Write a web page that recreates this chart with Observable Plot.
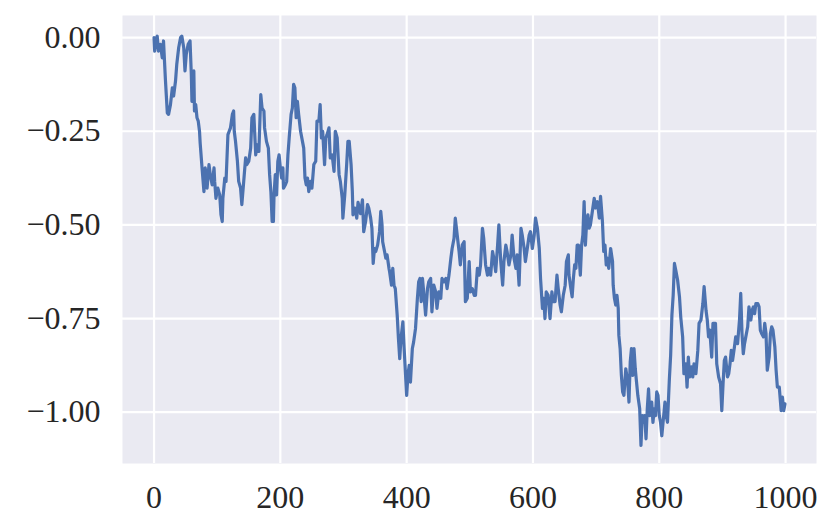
<!DOCTYPE html>
<html><head><meta charset="utf-8">
<script src="https://cdn.jsdelivr.net/npm/d3@7"></script>
<script src="https://cdn.jsdelivr.net/npm/@observablehq/plot@0.6"></script>
<style>body{margin:0;background:#fff}</style>
</head><body><div id="chart"></div>
<script>
const steps = [0,1,3,5,7,10,13,15,18,21,23,26,29,31,34,36,39,42,44,47,49,51,54,57,59,60,63,64,66,68,70,72,73,76,79,81,84,87,89,92,95,96,98,101,104,106,108,109,112,114,117,119,121,124,126,127,129,132,134,137,139,142,145,147,150,153,155,158,161,163,166,169,171,174,175,178,181,183,185,187,189,190,192,194,196,198,200,202,204,205,208,210,212,214,217,219,221,223,225,227,229,232,235,237,239,241,243,245,248,250,253,256,258,261,263,265,267,270,272,274,277,279,282,285,287,290,293,295,298,299,302,305,307,309,312,314,315,318,321,323,325,327,330,332,335,338,340,343,345,347,349,351,354,357,359,361,362,365,367,369,372,373,376,378,380,382,385,387,389,391,394,396,398,400,402,404,406,409,411,414,417,419,421,423,425,427,430,433,435,438,440,443,446,448,451,454,456,459,462,464,467,470,472,475,477,480,483,485,488,491,493,496,499,501,504,507,509,512,515,517,520,522,525,528,530,533,536,538,541,544,546,549,552,554,557,559,562,565,567,570,573,575,578,581,583,586,588,591,594,596,599,602,604,607,610,612,615,617,619,621,624,627,630,632,635,638,640,643,645,648,651,653,656,657,660,662,664,666,668,670,672,675,677,679,681,683,685,687,689,691,694,697,699,702,705,707,710,712,714,716,718,720,723,726,727,729,731,733,735,736,738,740,742,744,747,750,752,754,756,758,760,762,764,766,769,771,773,775,777,779,781,783,785,788,790,792,794,796,798,800,802,804,807,809,811,813,816,818,820,822,824,826,829,832,834,837,839,842,844,846,848,851,853,855,858,861,863,866,869,871,874,876,878,880,883,885,889,891,894,897,899,901,903,905,908,910,912,914,916,919,921,924,927,929,931,933,935,937,940,942,945,947,949,951,953,956,958,960,962,965,967,969,971,974,976,978,980,983,985,987,990,993,995,997,999];
const values = [0.000,-0.036,-0.004,0.004,-0.036,-0.018,-0.054,-0.009,-0.112,-0.201,-0.205,-0.179,-0.134,-0.156,-0.116,-0.071,-0.027,0.000,0.004,-0.027,-0.089,-0.045,-0.018,-0.009,-0.098,-0.170,-0.089,-0.196,-0.179,-0.214,-0.223,-0.250,-0.281,-0.348,-0.411,-0.348,-0.402,-0.339,-0.366,-0.393,-0.348,-0.384,-0.429,-0.402,-0.420,-0.473,-0.491,-0.429,-0.375,-0.384,-0.259,-0.250,-0.241,-0.205,-0.196,-0.250,-0.277,-0.330,-0.384,-0.402,-0.446,-0.384,-0.321,-0.339,-0.330,-0.295,-0.214,-0.205,-0.313,-0.286,-0.304,-0.152,-0.188,-0.196,-0.241,-0.277,-0.295,-0.366,-0.411,-0.491,-0.491,-0.420,-0.366,-0.420,-0.330,-0.313,-0.348,-0.375,-0.348,-0.402,-0.393,-0.384,-0.313,-0.268,-0.205,-0.188,-0.125,-0.134,-0.214,-0.170,-0.205,-0.250,-0.277,-0.295,-0.375,-0.393,-0.375,-0.411,-0.384,-0.402,-0.339,-0.330,-0.223,-0.223,-0.179,-0.268,-0.250,-0.339,-0.268,-0.259,-0.241,-0.321,-0.313,-0.357,-0.250,-0.268,-0.366,-0.384,-0.429,-0.482,-0.420,-0.339,-0.277,-0.277,-0.339,-0.411,-0.473,-0.455,-0.482,-0.440,-0.455,-0.470,-0.433,-0.518,-0.491,-0.446,-0.455,-0.482,-0.509,-0.603,-0.563,-0.571,-0.554,-0.518,-0.464,-0.500,-0.545,-0.571,-0.589,-0.580,-0.616,-0.625,-0.661,-0.616,-0.661,-0.670,-0.741,-0.804,-0.857,-0.804,-0.759,-0.830,-0.893,-0.955,-0.902,-0.875,-0.920,-0.830,-0.813,-0.777,-0.696,-0.652,-0.643,-0.705,-0.643,-0.679,-0.741,-0.670,-0.652,-0.643,-0.732,-0.661,-0.679,-0.723,-0.679,-0.696,-0.643,-0.652,-0.643,-0.670,-0.634,-0.589,-0.563,-0.536,-0.482,-0.527,-0.571,-0.607,-0.554,-0.545,-0.705,-0.696,-0.598,-0.679,-0.670,-0.688,-0.688,-0.616,-0.634,-0.607,-0.509,-0.536,-0.607,-0.634,-0.616,-0.634,-0.571,-0.589,-0.625,-0.554,-0.500,-0.598,-0.661,-0.598,-0.554,-0.571,-0.607,-0.580,-0.527,-0.589,-0.616,-0.580,-0.661,-0.509,-0.527,-0.563,-0.598,-0.563,-0.527,-0.518,-0.563,-0.527,-0.482,-0.509,-0.563,-0.643,-0.723,-0.696,-0.750,-0.679,-0.688,-0.750,-0.679,-0.705,-0.705,-0.634,-0.670,-0.714,-0.732,-0.688,-0.661,-0.598,-0.580,-0.634,-0.670,-0.692,-0.643,-0.607,-0.616,-0.554,-0.554,-0.634,-0.554,-0.527,-0.438,-0.554,-0.491,-0.473,-0.509,-0.500,-0.464,-0.429,-0.455,-0.438,-0.482,-0.424,-0.491,-0.571,-0.554,-0.607,-0.589,-0.616,-0.563,-0.598,-0.661,-0.696,-0.714,-0.688,-0.723,-0.795,-0.830,-0.902,-0.946,-0.955,-0.884,-0.920,-0.973,-0.866,-0.830,-0.902,-0.830,-0.884,-0.920,-0.955,-0.991,-1.089,-1.009,-1.027,-1.009,-1.071,-0.991,-0.938,-1.009,-0.973,-1.027,-0.991,-1.009,-0.946,-0.955,-1.009,-1.027,-1.063,-1.009,-0.973,-1.009,-1.027,-0.911,-0.848,-0.741,-0.688,-0.603,-0.620,-0.647,-0.692,-0.746,-0.799,-0.897,-0.871,-0.933,-0.853,-0.906,-0.879,-0.906,-0.871,-0.897,-0.835,-0.763,-0.754,-0.710,-0.665,-0.728,-0.754,-0.799,-0.781,-0.853,-0.763,-0.763,-0.871,-0.906,-0.924,-0.996,-0.924,-0.862,-0.853,-0.906,-0.897,-0.871,-0.835,-0.862,-0.826,-0.799,-0.817,-0.754,-0.683,-0.790,-0.844,-0.817,-0.799,-0.772,-0.719,-0.754,-0.728,-0.719,-0.737,-0.710,-0.710,-0.719,-0.781,-0.790,-0.799,-0.763,-0.790,-0.888,-0.853,-0.790,-0.772,-0.781,-0.826,-0.888,-0.933,-0.933,-0.996,-0.960,-0.996,-0.978];
const xTicks = [0, 200, 400, 600, 800, 1000];
const yTicks = [0, -0.25, -0.5, -0.75, -1];

const data = steps.map((s, i) => ({step: s, value: values[i]}));

const chart = Plot.plot({
  width: 830,
  height: 530,
  marginLeft: 122,
  marginRight: 14,
  marginTop: 15,
  marginBottom: 67,
  style: {fontFamily: "'Liberation Serif', serif", fontSize: "32px", color: "#262626", background: "white"},
  x: {domain: [-49.95, 1048.95]},
  y: {domain: [-1.137, 0.059]},
  marks: [
    Plot.frame({fill: "#EAEAF2", stroke: "none"}),
    Plot.gridX(xTicks, {stroke: "white", strokeOpacity: 1, strokeWidth: 2.2}),
    Plot.gridY(yTicks, {stroke: "white", strokeOpacity: 1, strokeWidth: 2.2}),
    Plot.line(data, {x: "step", y: "value", stroke: "#4C72B0", strokeWidth: 3.2}),
    Plot.axisX(xTicks, {tickSize: 0, tickPadding: 22, fontSize: 32, label: null, tickFormat: d3.format("d")}),
    Plot.axisY(yTicks, {tickSize: 0, tickPadding: 22, fontSize: 32, label: null, tickFormat: d3.format(".2f")})
  ]
});
document.getElementById("chart").append(chart);
</script>
</body></html>
